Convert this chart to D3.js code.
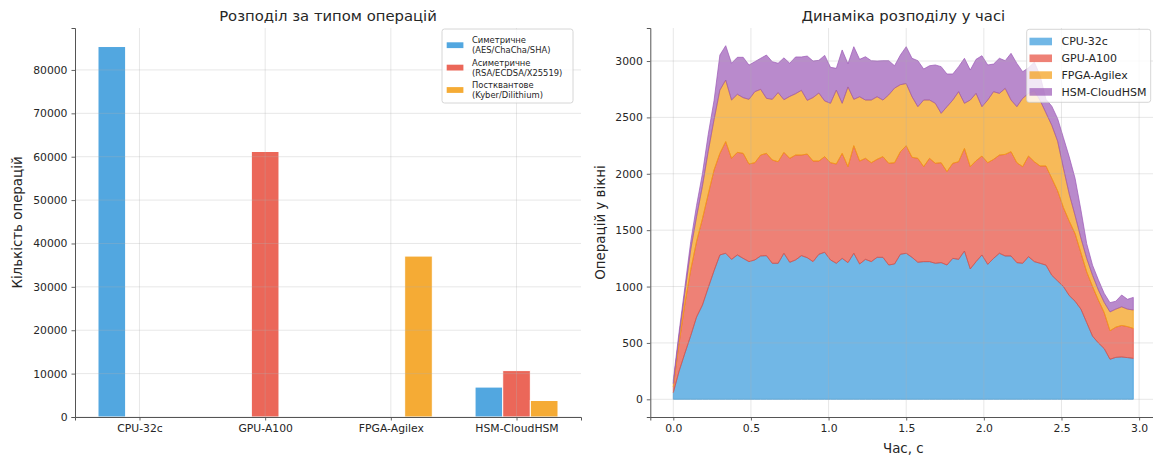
<!DOCTYPE html>
<html>
<head>
<meta charset="utf-8">
<script src="https://cdn.jsdelivr.net/npm/d3@7"></script>
<style>
  body { margin: 0; background: #fff; }
  svg { font-family: "DejaVu Sans", sans-serif; }
</style>
</head>
<body>
<svg id="chart" width="1153" height="456"></svg>
<script>
// ---- left panel: operations by type ----
var platforms = ["CPU-32c", "GPU-A100", "FPGA-Agilex", "HSM-CloudHSM"];
var symmetric   = [85400, 0, 0, 6900];
var asymmetric  = [0, 61200, 0, 10700];
var postQuantum = [0, 0, 37100, 3800];
var opLabels = [
    ["Симетричне", "(AES/ChaCha/SHA)"],
    ["Асиметричне", "(RSA/ECDSA/X25519)"],
    ["Постквантове", "(Kyber/Dilithium)"]
];

// ---- right panel: operations per window over time ----
var times = [0, 0.0375, 0.075, 0.1125, 0.15, 0.1875, 0.225, 0.2625, 0.3, 0.3375,
    0.375, 0.4125, 0.45, 0.4875, 0.525, 0.5625, 0.6, 0.6375, 0.675, 0.7125,
    0.75, 0.7875, 0.825, 0.8625, 0.9, 0.9375, 0.975, 1.0125, 1.05, 1.0875,
    1.125, 1.1625, 1.2, 1.2375, 1.275, 1.3125, 1.35, 1.3875, 1.425, 1.4625,
    1.5, 1.5375, 1.575, 1.6125, 1.65, 1.6875, 1.725, 1.7625, 1.8, 1.8375,
    1.875, 1.9125, 1.95, 1.9875, 2.025, 2.0625, 2.1, 2.1375, 2.175, 2.2125,
    2.25, 2.2875, 2.325, 2.3625, 2.4, 2.4375, 2.475, 2.5125, 2.55, 2.5875,
    2.625, 2.6625, 2.7, 2.7375, 2.775, 2.8125, 2.85, 2.8875, 2.925, 2.9625];
var cpu = [60, 250, 410, 565, 730, 835, 990, 1140, 1280, 1295,
    1241, 1280, 1250, 1221, 1236, 1271, 1274, 1206, 1206, 1295,
    1215, 1236, 1274, 1256, 1221, 1286, 1304, 1236, 1206, 1250,
    1212, 1295, 1200, 1241, 1221, 1259, 1259, 1191, 1200, 1286,
    1295, 1259, 1215, 1221, 1221, 1206, 1212, 1191, 1250, 1241,
    1315, 1156, 1221, 1280, 1197, 1250, 1295, 1271, 1271, 1212,
    1206, 1265, 1221, 1206, 1190, 1100, 1050, 1000, 920, 870,
    800, 680, 560, 500, 450, 355, 372, 375, 370, 363];
var gpu = [50, 250, 440, 585, 670, 765, 830, 893, 901, 990,
    896, 910, 931, 866, 862, 895, 907, 916, 901, 895,
    922, 930, 892, 919, 892, 827, 848, 862, 881, 931,
    851, 954, 913, 896, 877, 869, 893, 902, 898, 910,
    954, 887, 922, 842, 916, 887, 886, 828, 843, 866,
    910, 907, 895, 877, 901, 878, 871, 901, 925, 886,
    857, 892, 886, 863, 879, 860, 800, 700, 660, 600,
    500, 450, 440, 380, 320, 253, 268, 280, 275, 266];
var fpga = [30, 60, 100, 180, 220, 290, 380, 447, 561, 546,
    517, 515, 494, 573, 630, 583, 488, 538, 613, 467,
    549, 544, 574, 476, 563, 603, 494, 527, 655, 444,
    707, 411, 570, 517, 556, 555, 502, 607, 662, 594,
    551, 537, 458, 591, 517, 532, 438, 576, 561, 621,
    400, 591, 597, 438, 556, 600, 547, 585, 458, 497,
    606, 556, 630, 581, 471, 470, 440, 350, 240, 160,
    130, 120, 100, 90, 90, 167, 160, 165, 155, 163];
var hsm = [30, 40, 50, 70, 100, 110, 150, 170, 311, 305,
    326, 328, 358, 304, 266, 275, 384, 334, 260, 371,
    294, 326, 296, 393, 324, 290, 404, 319, 193, 473,
    205, 467, 332, 384, 349, 317, 349, 303, 198, 263,
    327, 341, 408, 275, 304, 340, 414, 290, 231, 222,
    399, 266, 302, 452, 311, 245, 311, 246, 414, 384,
    236, 227, 253, 220, 120, 170, 200, 270, 330, 330,
    250, 130, 90, 90, 80, 82, 70, 105, 87, 112];

var colors = ["#3498db", "#e74c3c", "#f39c12", "#9b59b6"];
var textColor = "#262626";
var gridColor = "#b0b0b0";
var spineColor = "#555";

var svg = d3.select("#chart");
var plotTop = 28, plotBottom = 417;

function styleAxis(g) {
    g.select(".domain").attr("stroke", spineColor).attr("stroke-width", 1);
    g.selectAll(".tick line").attr("stroke", spineColor).attr("stroke-width", 0.9);
    g.selectAll(".tick text").attr("fill", textColor).style("font-size", "10.8px");
    g.attr("font-family", null);
}

// ================= LEFT: grouped bars =================
var barW = 0.22;
var lo = -1.5 * barW, hi = platforms.length - 1 + 1.5 * barW;
var pad = (hi - lo) * 0.05;
var xL = d3.scaleLinear().domain([lo - pad, hi + pad]).range([75, 581]);
var opSeries = [symmetric, asymmetric, postQuantum];
var yL = d3.scaleLinear()
    .domain([0, d3.max(opSeries, function(s) { return d3.max(s); }) * 1.05])
    .range([plotBottom, plotTop]);

var left = svg.append("g");

var bars = [];
opSeries.forEach(function(s, k) {
    s.forEach(function(v, i) {
        bars.push({ k: k, i: i, value: v });
    });
});

left.selectAll(".bar")
    .data(bars)
    .enter()
    .append("rect")
    .attr("class", "bar")
    .attr("x", function(d) { return xL(d.i + (d.k - 1) * barW - barW / 2); })
    .attr("width", function(d) { return xL(barW) - xL(0); })
    .attr("y", function(d) { return yL(d.value); })
    .attr("height", function(d) { return yL(0) - yL(d.value); })
    .attr("fill", function(d) { return colors[d.k]; })
    .attr("fill-opacity", 0.85)
    .attr("stroke", "#fff")
    .attr("stroke-width", 1);

// grid
left.append("g").selectAll("line")
    .data(yL.ticks(10))
    .enter().append("line")
    .attr("x1", 75).attr("x2", 581)
    .attr("y1", function(d) { return yL(d); }).attr("y2", function(d) { return yL(d); })
    .attr("stroke", gridColor).attr("stroke-opacity", 0.3);
left.append("g").selectAll("line")
    .data(d3.range(platforms.length))
    .enter().append("line")
    .attr("x1", function(d) { return xL(d); }).attr("x2", function(d) { return xL(d); })
    .attr("y1", plotTop).attr("y2", plotBottom)
    .attr("stroke", gridColor).attr("stroke-opacity", 0.3);

left.append("g")
    .attr("transform", "translate(75,0)")
    .call(d3.axisLeft(yL).ticks(10).tickFormat(d3.format("d")).tickSizeOuter(0).tickSize(3.5).tickPadding(4))
    .call(styleAxis);

left.append("g")
    .attr("transform", "translate(0," + plotBottom + ")")
    .call(d3.axisBottom(xL).tickValues(d3.range(platforms.length))
        .tickFormat(function(i) { return platforms[i]; })
        .tickSizeOuter(0).tickSize(3.5).tickPadding(4))
    .call(styleAxis);

left.append("text")
    .attr("x", (75 + 581) / 2).attr("y", 21)
    .attr("text-anchor", "middle")
    .attr("fill", textColor)
    .style("font-size", "14.8px")
    .text("Розподіл за типом операцій");

left.append("text")
    .attr("transform", "translate(22," + (plotTop + plotBottom) / 2 + ") rotate(-90)")
    .attr("text-anchor", "middle")
    .attr("fill", textColor)
    .style("font-size", "13.4px")
    .text("Кількість операцій");

// legend (left)
var legL = left.append("g");
legL.append("rect")
    .attr("x", 442).attr("y", 29).attr("width", 131).attr("height", 74)
    .attr("rx", 2.5)
    .attr("fill", "#fff").attr("fill-opacity", 0.8)
    .attr("stroke", "#cccccc").attr("stroke-width", 0.8);
opLabels.forEach(function(lab, k) {
    var cy = 45.2 + k * 22.4;
    legL.append("rect")
        .attr("x", 446.7).attr("y", cy - 2.9).attr("width", 16.7).attr("height", 5.8)
        .attr("fill", colors[k]).attr("fill-opacity", 0.85);
    lab.forEach(function(line, j) {
        legL.append("text")
            .attr("x", 472).attr("y", cy - 2 + j * 10)
            .attr("fill", textColor)
            .style("font-size", "8.4px")
            .text(line);
    });
});

// ================= RIGHT: stacked area =================
var rows = times.map(function(t, i) {
    return { t: t, cpu: cpu[i], gpu: gpu[i], fpga: fpga[i], hsm: hsm[i] };
});
var keys = ["cpu", "gpu", "fpga", "hsm"];
var stack = d3.stack().keys(keys)(rows);

var tMin = d3.min(times), tMax = d3.max(times);
var tPad = (tMax - tMin) * 0.05;
var xR = d3.scaleLinear().domain([tMin - tPad, tMax + tPad]).range([650.3, 1156.3]);
var totMax = d3.max(stack[stack.length - 1], function(d) { return d[1]; });
var yR = d3.scaleLinear().domain([-0.05 * totMax, 1.05 * totMax]).range([plotBottom, plotTop]);

var right = svg.append("g");

var area = d3.area()
    .x(function(d) { return xR(d.data.t); })
    .y0(function(d) { return yR(d[0]); })
    .y1(function(d) { return yR(d[1]); });

right.selectAll(".layer")
    .data(stack)
    .enter()
    .append("path")
    .attr("class", "layer")
    .attr("d", area)
    .attr("fill", function(d, i) { return colors[i]; })
    .attr("fill-opacity", 0.7)
    .attr("stroke", function(d, i) { return colors[i]; })
    .attr("stroke-opacity", 0.7)
    .attr("stroke-width", 1)
    .attr("stroke-linejoin", "round");

right.append("g").selectAll("line")
    .data(yR.ticks(8))
    .enter().append("line")
    .attr("x1", 650.3).attr("x2", 1156.3)
    .attr("y1", function(d) { return yR(d); }).attr("y2", function(d) { return yR(d); })
    .attr("stroke", gridColor).attr("stroke-opacity", 0.3);
right.append("g").selectAll("line")
    .data(xR.ticks(7))
    .enter().append("line")
    .attr("x1", function(d) { return xR(d); }).attr("x2", function(d) { return xR(d); })
    .attr("y1", plotTop).attr("y2", plotBottom)
    .attr("stroke", gridColor).attr("stroke-opacity", 0.3);

right.append("g")
    .attr("transform", "translate(650.3,0)")
    .call(d3.axisLeft(yR).ticks(8).tickFormat(d3.format("d")).tickSizeOuter(0).tickSize(3.5).tickPadding(4))
    .call(styleAxis);

right.append("g")
    .attr("transform", "translate(0," + plotBottom + ")")
    .call(d3.axisBottom(xR).ticks(7).tickFormat(d3.format(".1f")).tickSizeOuter(0).tickSize(3.5).tickPadding(4))
    .call(styleAxis);

right.append("text")
    .attr("x", (650.3 + 1156.3) / 2).attr("y", 21)
    .attr("text-anchor", "middle")
    .attr("fill", textColor)
    .style("font-size", "14.8px")
    .text("Динаміка розподілу у часі");

right.append("text")
    .attr("x", (650.3 + 1156.3) / 2).attr("y", 453)
    .attr("text-anchor", "middle")
    .attr("fill", textColor)
    .style("font-size", "13.4px")
    .text("Час, с");

right.append("text")
    .attr("transform", "translate(605," + (plotTop + plotBottom) / 2 + ") rotate(-90)")
    .attr("text-anchor", "middle")
    .attr("fill", textColor)
    .style("font-size", "13.4px")
    .text("Операцій у вікні");

// legend (right)
var legR = right.append("g");
legR.append("rect")
    .attr("x", 1026.7).attr("y", 29.3).attr("width", 124).attr("height", 73)
    .attr("rx", 2.5)
    .attr("fill", "#fff").attr("fill-opacity", 0.8)
    .attr("stroke", "#cccccc").attr("stroke-width", 0.8);
platforms.forEach(function(name, k) {
    var cy = 41.5 + k * 16.8;
    legR.append("rect")
        .attr("x", 1029.5).attr("y", cy - 3.8).attr("width", 22.5).attr("height", 7.6)
        .attr("fill", colors[k]).attr("fill-opacity", 0.7);
    legR.append("text")
        .attr("x", 1061.5).attr("y", cy + 3.9)
        .attr("fill", textColor)
        .style("font-size", "11px")
        .text(name);
});
</script>
</body>
</html>
